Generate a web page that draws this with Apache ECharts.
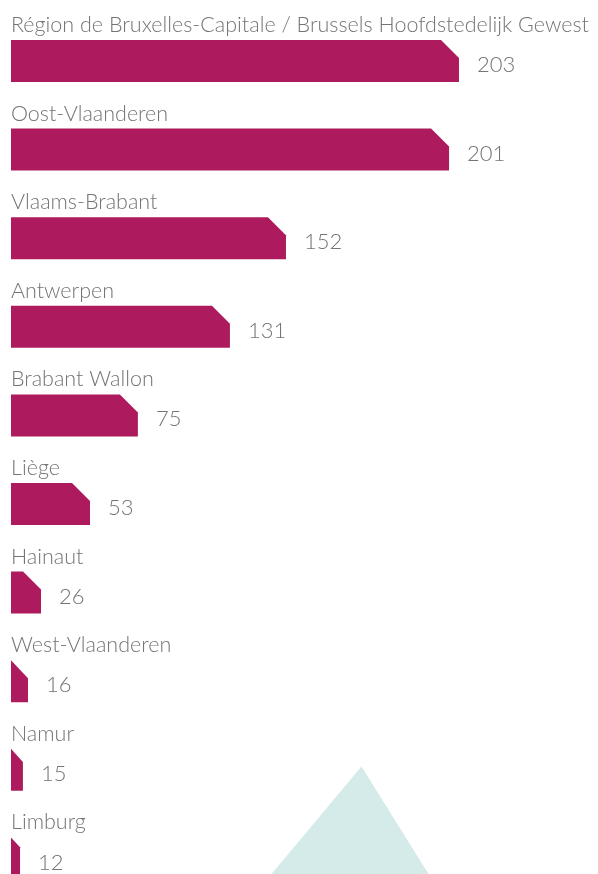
<!DOCTYPE html>
<html>
<head>
<meta charset="utf-8">
<script src="https://cdn.jsdelivr.net/npm/echarts@6/dist/echarts.min.js"></script>
<style>
html,body{margin:0;padding:0;background:#fff;}
#chart{width:598px;height:874px;}
</style>
</head>
<body>
<div id="chart"></div>
<script>
// Categories (top to bottom)
const categories = [
  'Région de Bruxelles-Capitale / Brussels Hoofdstedelijk Gewest',
  'Oost-Vlaanderen',
  'Vlaams-Brabant',
  'Antwerpen',
  'Brabant Wallon',
  'Liège',
  'Hainaut',
  'West-Vlaanderen',
  'Namur',
  'Limburg'
];
// Values printed next to bars
const values = [203, 201, 152, 131, 75, 53, 26, 16, 15, 12];
// Bar lengths as drawn in the picture (in value units, same scale as 203)
const barLengths = [203, 198.5, 124.6, 99.2, 57.5, 35.8, 13.6, 7.7, 5.4, 4.1];

const BAR_COLOR = '#ad1a5d';
const TEXT_COLOR = '#747474';
const FONT = 'Lato, "Open Sans", sans-serif';

const chart = echarts.init(document.getElementById('chart'), null, {renderer: 'canvas'});

function renderItem(params, api) {
  const idx = api.value(0);
  const len = api.value(1);
  const val = api.value(2);
  const start = api.coord([0, idx]);
  const end = api.coord([len, idx]);
  const h = 42;
  const x0 = start[0], x1 = end[0];
  const y0 = start[1] - h / 2;
  const w = x1 - x0;
  const cw = Math.min(18, w);
  const ch = Math.min(18, w * 1.1);
  return {
    type: 'group',
    children: [
      {
        type: 'polygon',
        shape: {points: [[x0, y0], [x1 - cw, y0], [x1, y0 + ch], [x1, y0 + h], [x0, y0 + h]]},
        style: {fill: BAR_COLOR}
      },
      {
        type: 'text',
        style: {
          text: categories[idx],
          x: x0,
          y: y0 - 4,
          verticalAlign: 'bottom',
          align: 'left',
          fontFamily: FONT,
          fontWeight: 300,
          fontSize: 21.5,
          fill: TEXT_COLOR
        }
      },
      {
        type: 'text',
        style: {
          text: String(val),
          x: x1 + 18,
          y: start[1] + 4,
          verticalAlign: 'middle',
          align: 'left',
          fontFamily: FONT,
          fontWeight: 300,
          fontSize: 22,
          fill: TEXT_COLOR
        }
      }
    ]
  };
}

const seriesData = categories.map((c, i) => [i, barLengths[i], values[i]]);

chart.setOption({
  animation: false,
  backgroundColor: '#ffffff',
  grid: {left: 11, top: 16.7, width: 551.7, height: 857.3, containLabel: false},
  xAxis: {type: 'value', min: 0, max: 250, show: false},
  yAxis: {type: 'value', min: -0.5, max: 9.176, inverse: true, show: false},
  graphic: [
    {
      type: 'polygon',
      z: -10,
      shape: {points: [[361.5, 766.5], [271.5, 874], [428.5, 874]]},
      style: {fill: '#d5ebe9'}
    }
  ],
  series: [{
    type: 'custom',
    renderItem: renderItem,
    encode: {x: 1, y: 0},
    data: seriesData,
    clip: false,
    z: 2
  }]
});
</script>
</body>
</html>
